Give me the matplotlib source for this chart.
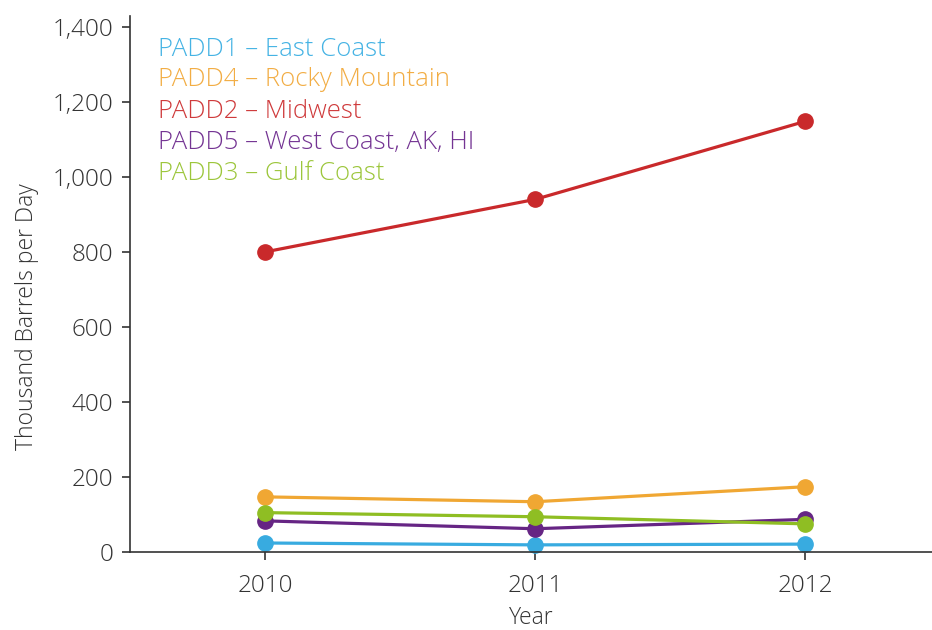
import matplotlib
matplotlib.use("Agg")
import matplotlib.pyplot as plt
from matplotlib.ticker import FuncFormatter

years = [2010, 2011, 2012]
labels = ["PADD1 \u2013 East Coast", "PADD4 \u2013 Rocky Mountain", "PADD2 \u2013 Midwest",
          "PADD5 \u2013 West Coast, AK, HI", "PADD3 \u2013 Gulf Coast"]
east = [24, 19, 21]
rocky = [147, 134, 174]
midwest = [800, 940, 1148]
west = [83, 62, 87]
gulf = [105, 94, 75]
series = [east, rocky, midwest, west, gulf]
colors = ["#38abe0", "#f0a733", "#c9292b", "#662584", "#8fbe23"]
text_colors = ["#45b3e4", "#f2ad44", "#cf3a3b", "#743493", "#9cc63b"]

plt.rcParams["font.family"] = ["Open Sans", "DejaVu Sans"]
plt.rcParams["font.weight"] = "light"
plt.rcParams["axes.labelweight"] = "light"
fig = plt.figure(figsize=(9.32, 6.3), dpi=100)
ax = fig.add_axes([130 / 932, 1 - 552 / 630, 1 - 130 / 932, (552 - 16) / 630])

for vals, c in zip(series, colors):
    ax.plot(years, vals, "-o", color=c, lw=2.3, ms=11, clip_on=False)

ax.set_xlim(2009.5, 2012.47)
ax.set_ylim(0, 1429)
ax.set_xticks(years)
ax.set_yticks(range(0, 1401, 200))
ax.yaxis.set_major_formatter(FuncFormatter(lambda v, p: f"{int(v):,}"))
for s in ["top", "right"]:
    ax.spines[s].set_visible(False)
for s in ["left", "bottom"]:
    ax.spines[s].set_color("#333333")
    ax.spines[s].set_linewidth(1.2)
ax.tick_params(labelsize=17.5, colors="#333333", length=6, width=1.2)
ax.tick_params(axis="x", pad=10)
ax.tick_params(axis="y", pad=6)
ax.set_xlabel("Year", fontsize=16.5, color="#333333")
ax.xaxis.set_label_coords(0.5, -0.1)
ax.set_ylabel("Thousand Barrels per Day", fontsize=16.5, color="#333333")
ax.yaxis.set_label_coords(-0.114, 0.44)

for i, (lab, tc) in enumerate(zip(labels, text_colors)):
    fig.text(158 / 932, 1 - (49 + 31 * i) / 630, lab, color=tc, fontsize=18.5,
             va="center", ha="left")

fig.savefig("out.png", dpi=100)
